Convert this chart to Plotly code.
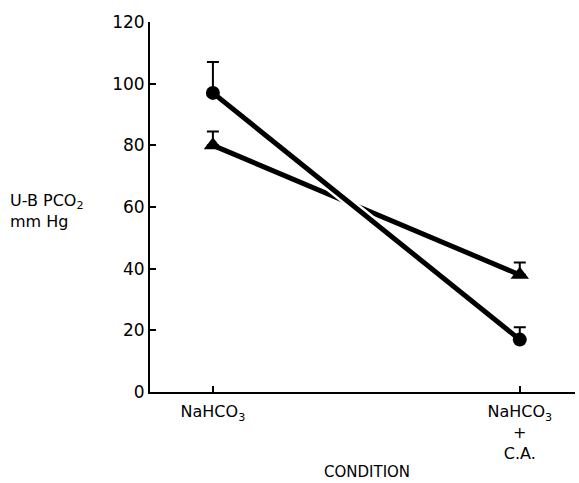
import plotly.graph_objects as go

conditions = [0, 1]
tick_labels = ["NaHCO<sub>3</sub>", "NaHCO<sub>3</sub><br>+<br>C.A."]
circle_mean = [97, 17]
circle_err = [10, 4]
tri_mean = [80, 38]
tri_err = [4.5, 4]
y_ticks = [0, 20, 40, 60, 80, 100, 120]

fig = go.Figure()

# triangle series line
fig.add_trace(go.Scatter(x=conditions, y=tri_mean, mode="lines",
                         line=dict(color="black", width=5), hoverinfo="skip", showlegend=False))
# white halo for crossing gap
fig.add_trace(go.Scatter(x=conditions, y=circle_mean, mode="lines",
                         line=dict(color="white", width=10), hoverinfo="skip", showlegend=False))
fig.add_trace(go.Scatter(x=conditions, y=circle_mean, mode="lines",
                         line=dict(color="black", width=5), hoverinfo="skip", showlegend=False))
# markers with upward error bars
fig.add_trace(go.Scatter(x=conditions, y=circle_mean, mode="markers",
                         marker=dict(symbol="circle", size=14, color="black"),
                         error_y=dict(type="data", symmetric=False, array=circle_err,
                                      arrayminus=[0, 0], color="black", thickness=2, width=6),
                         showlegend=False))
fig.add_trace(go.Scatter(x=conditions, y=tri_mean, mode="markers",
                         marker=dict(symbol="triangle-up", size=16, color="black"),
                         error_y=dict(type="data", symmetric=False, array=tri_err,
                                      arrayminus=[0, 0], color="black", thickness=2, width=6),
                         showlegend=False))

fam = "DejaVu Sans, Verdana, sans-serif"
font = dict(family=fam, size=16, color="black")

fig.update_layout(
    width=579, height=483,
    margin=dict(l=150, r=4, t=22, b=91),
    paper_bgcolor="white", plot_bgcolor="white",
    font=font,
    showlegend=False,
)
fig.update_xaxes(
    range=[-0.205, 1.18], tickvals=conditions, ticktext=tick_labels,
    showline=True, linecolor="black", linewidth=2, mirror=False,
    ticks="inside", ticklen=6, tickwidth=2, tickcolor="black", ticklabelstandoff=4,
    showgrid=False, zeroline=False, tickfont=dict(family=fam, size=16, color="black"),
)
fig.update_yaxes(
    range=[0, 120], tickvals=y_ticks,
    showline=True, linecolor="black", linewidth=2,
    ticks="inside", ticklen=6, tickwidth=2, tickcolor="black",
    showgrid=False, zeroline=False, tickfont=dict(family=fam, size=17, color="black"),
)
fig.add_annotation(text="U-B PCO<sub>2</sub><br>mm Hg", xref="paper", yref="paper",
                   x=-0.335, y=0.49, xanchor="left", yanchor="middle", align="left",
                   showarrow=False, font=dict(family=fam, size=16, color="black"))
fig.add_annotation(text="CONDITION", xref="paper", yref="paper",
                   x=0.51, y=-0.215, xanchor="center", yanchor="middle",
                   showarrow=False, font=dict(family=fam, size=15, color="black"))

fig.write_html("out.html")
